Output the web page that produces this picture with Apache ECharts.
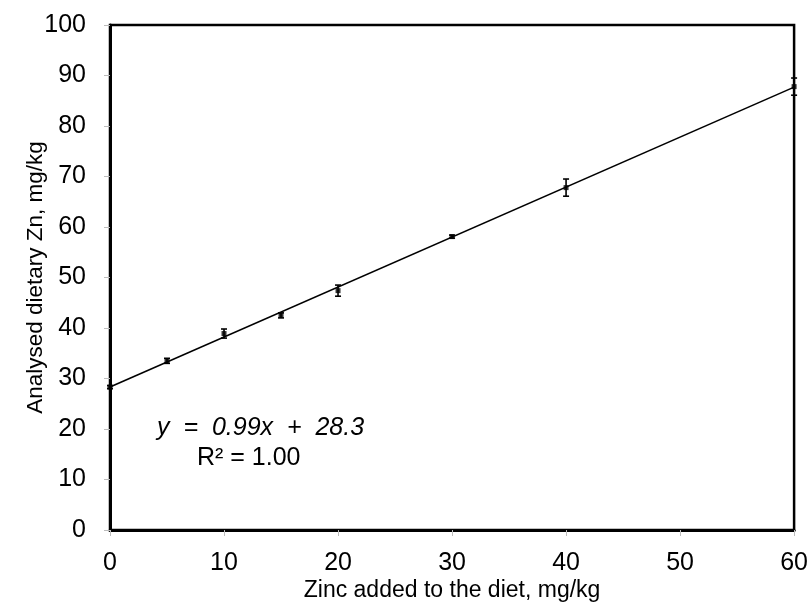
<!DOCTYPE html>
<html>
<head>
<meta charset="utf-8">
<script src="https://cdn.jsdelivr.net/npm/echarts@6/dist/echarts.min.js"></script>
<style>html,body{margin:0;padding:0;background:#fff}#c{width:811px;height:612px}</style>
</head>
<body>
<div id="c"></div>
<script>
var zincAdded = [0, 5, 10, 15, 20, 30, 40, 60];
var analysedZn = [28.3, 33.5, 38.9, 42.5, 47.4, 58.1, 67.8, 87.8];
var errorSD = [0.3, 0.5, 0.9, 0.5, 1.1, 0.3, 1.7, 1.7];
var trendX = [0, 60];
var trendY = [28.3, 87.7];
var xTicks = [0, 10, 20, 30, 40, 50, 60];
var yTicks = [0, 10, 20, 30, 40, 50, 60, 70, 80, 90, 100];

var pts = zincAdded.map(function (x, i) { return [x, analysedZn[i]]; });
var errs = zincAdded.map(function (x, i) { return [x, analysedZn[i] - errorSD[i], analysedZn[i] + errorSD[i]]; });
var trend = trendX.map(function (x, i) { return [x, trendY[i]]; });

var chart = echarts.init(document.getElementById('c'));
var font = 'Liberation Sans, Arial, sans-serif';
chart.setOption({
  animation: false,
  grid: { left: 110, right: 15, top: 25, bottom: 82, show: true, borderColor: '#000', borderWidth: 2.5, backgroundColor: 'transparent' },
  xAxis: {
    type: 'value', min: 0, max: 60, interval: 10,
    name: 'Zinc added to the diet, mg/kg', nameLocation: 'middle', nameGap: 49, nameMoveOverlap: false,
    nameTextStyle: { fontSize: 23, color: '#000', fontFamily: font },
    axisLine: { show: true, onZero: false, lineStyle: { color: '#000', width: 3 } },
    axisTick: { show: true, length: 6, lineStyle: { color: '#bbb' } },
    axisLabel: { fontSize: 25, color: '#000', fontFamily: font, margin: 21 },
    splitLine: { show: false }
  },
  yAxis: {
    type: 'value', min: 0, max: 100, interval: 10,
    name: 'Analysed dietary Zn, mg/kg', nameLocation: 'middle', nameGap: 63, nameRotate: 90, nameMoveOverlap: false,
    nameTextStyle: { fontSize: 22.5, color: '#000', fontFamily: font },
    axisLine: { show: true, onZero: false, lineStyle: { color: '#000', width: 3 } },
    axisTick: { show: true, length: 6, lineStyle: { color: '#bbb' } },
    axisLabel: { fontSize: 25, color: '#000', fontFamily: font, margin: 24 },
    splitLine: { show: false }
  },
  series: [
    {
      type: 'line', data: trend, symbol: 'none', z: 2,
      lineStyle: { color: '#000', width: 1.6 }
    },
    {
      type: 'custom', data: errs, z: 3,
      renderItem: function (params, api) {
        var x = api.value(0);
        var lo = api.coord([x, api.value(1)]);
        var hi = api.coord([x, api.value(2)]);
        var w = 3;
        var st = { stroke: '#000', lineWidth: 1.6 };
        return {
          type: 'group', children: [
            { type: 'line', shape: { x1: lo[0], y1: lo[1], x2: hi[0], y2: hi[1] }, style: st },
            { type: 'line', shape: { x1: lo[0] - w, y1: lo[1], x2: lo[0] + w, y2: lo[1] }, style: st },
            { type: 'line', shape: { x1: hi[0] - w, y1: hi[1], x2: hi[0] + w, y2: hi[1] }, style: st }
          ]
        };
      }
    },
    {
      type: 'scatter', data: pts, symbol: 'rect', symbolSize: 5, z: 4,
      itemStyle: { color: '#000' }
    }
  ],
  graphic: [
    { type: 'text', left: 157, top: 416, style: { text: 'y  =  0.99x  +  28.3', fontSize: 25, fontStyle: 'italic', fontFamily: font, fill: '#000' } },
    { type: 'text', left: 197, top: 446, style: { text: 'R² = 1.00', fontSize: 25, fontFamily: font, fill: '#000' } }
  ]
});
</script>
</body>
</html>
